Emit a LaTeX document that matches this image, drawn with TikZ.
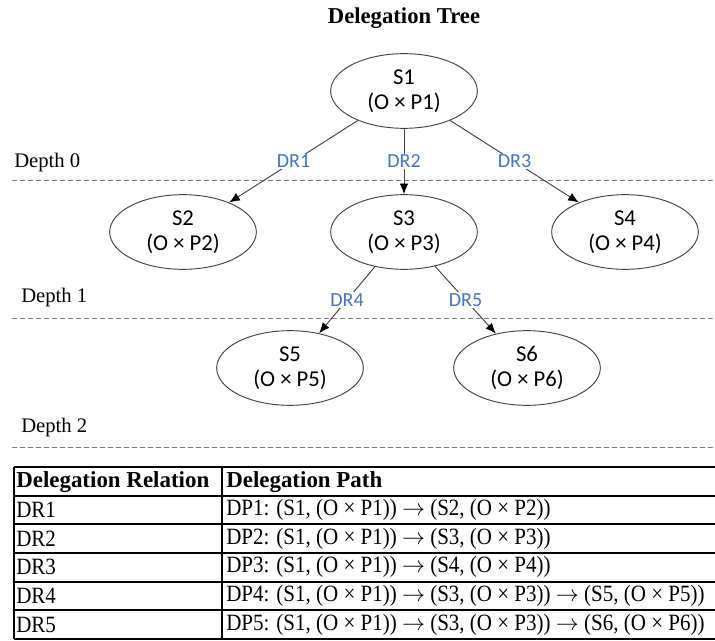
\documentclass[tikz,border=0pt]{standalone}
\usepackage{fontspec}
\setmainfont{Liberation Serif}
\newfontfamily\calibfont{Carlito}
\newfontfamily\cellfont[FakeStretch=0.9]{Liberation Serif}
\usetikzlibrary{arrows.meta,shapes.geometric}
\definecolor{drblue}{RGB}{68,114,196}
\definecolor{linegray}{RGB}{64,64,64}

\begin{document}
\begin{tikzpicture}[x=0.75pt,y=-0.75pt,
	subj/.style={draw=linegray, line width=0.7pt, ellipse, minimum width=110pt, minimum height=56pt, inner sep=0pt, align=center, font=\calibfont\fontsize{17}{19}\selectfont},
	deleg/.style={draw=linegray, line width=0.7pt, -{Latex[length=8pt,width=6.5pt,color=black]}},
	drlabel/.style={fill=white, inner sep=1pt, text=drblue, font=\calibfont\fontsize{15}{17}\selectfont},
	depthline/.style={draw=gray, line width=0.7pt, dash pattern=on 3.5pt off 2.5pt},
	depthlabel/.style={anchor=west, inner sep=0pt, font=\fontsize{15.5}{18}\selectfont},
	cell/.style={anchor=west, inner sep=0pt, font=\cellfont\fontsize{17.5}{20}\selectfont},
	headcell/.style={anchor=west, inner sep=0pt, font=\bfseries\fontsize{17.2}{20}\selectfont},
	tabline/.style={draw=black, line width=0.8pt},
	tabthick/.style={draw=black, line width=1.4pt}]
	%%%%% START %%%%%
	\useasboundingbox (0,0) rectangle (715,641);
	
	\node[font=\bfseries\fontsize{17}{20}\selectfont] (title) at (404,18) {Delegation Tree};
	
	% depth levels
	\draw[depthline] (12,180) -- (715,180);
	\draw[depthline] (12,318) -- (715,318);
	\draw[depthline] (12,447) -- (715,447);
	\node[depthlabel] (d0) at (14,163) {Depth 0};
	\node[depthlabel] (d1) at (21,298) {Depth 1};
	\node[depthlabel] (d2) at (21,428) {Depth 2};
	
	% subjects
	\node[subj] (s1) at (404,91) {S1\\(O × P1)};
	\node[subj] (s2) at (183,232) {S2\\(O × P2)};
	\node[subj] (s3) at (404,232) {S3\\(O × P3)};
	\node[subj] (s4) at (625,232) {S4\\(O × P4)};
	\node[subj] (s5) at (290,368) {S5\\(O × P5)};
	\node[subj] (s6) at (527,368) {S6\\(O × P6)};
	
	% delegation relations
	\draw[deleg] (s1) -- node[drlabel] (dr1) {DR1} (s2);
	\draw[deleg] (s1) -- node[drlabel] (dr2) {DR2} (s3);
	\draw[deleg] (s1) -- node[drlabel] (dr3) {DR3} (s4);
	\draw[deleg] (s3) -- node[drlabel] (dr4) {DR4} (s5);
	\draw[deleg] (s3) -- node[drlabel] (dr5) {DR5} (s6);
	
	% table
	\draw[tabline] (14,467) -- (715,467);
	\draw[tabline] (14,496) -- (715,496);
	\draw[tabline] (14,524) -- (715,524);
	\draw[tabthick] (14,553) -- (715,553);
	\draw[tabline] (14,582) -- (715,582);
	\draw[tabthick] (14,610) -- (715,610);
	\draw[tabline] (14,639) -- (715,639);
	\draw[tabline] (14,467) -- (14,639);
	\draw[tabline] (222,467) -- (222,639);
	
	\node[headcell] (h1) at (16,482) {Delegation Relation};
	\node[headcell] (h2) at (226,482) {Delegation Path};
	
	\node[cell] (r1) at (16,510) {DR1};
	\node[cell] (p1) at (226,510) {DP1: (S1, (O × P1)) $\rightarrow$ (S2, (O × P2))};
	\node[cell] (r2) at (16,539) {DR2};
	\node[cell] (p2) at (226,539) {DP2: (S1, (O × P1)) $\rightarrow$ (S3, (O × P3))};
	\node[cell] (r3) at (16,567) {DR3};
	\node[cell] (p3) at (226,567) {DP3: (S1, (O × P1)) $\rightarrow$ (S4, (O × P4))};
	\node[cell] (r4) at (16,596) {DR4};
	\node[cell] (p4) at (226,596) {DP4: (S1, (O × P1)) $\rightarrow$ (S3, (O × P3)) $\rightarrow$ (S5, (O × P5))};
	\node[cell] (r5) at (16,625) {DR5};
	\node[cell] (p5) at (226,625) {DP5: (S1, (O × P1)) $\rightarrow$ (S3, (O × P3)) $\rightarrow$ (S6, (O × P6))};
	
	%%%%% END %%%%%
\end{tikzpicture}
\end{document}
